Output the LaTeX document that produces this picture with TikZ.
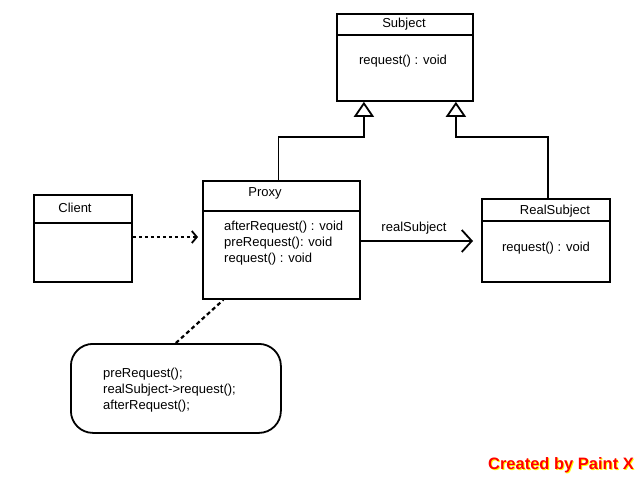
\documentclass[tikz,border=0pt]{standalone}
\usepackage{fontspec}
\setmainfont{Liberation Sans}
\usepackage{xcolor}
\usetikzlibrary{arrows.meta,positioning,calc}
\definecolor{ink}{HTML}{000000}
\definecolor{wmred}{HTML}{FF0000}
\definecolor{wmyel}{HTML}{FFFF00}
\tikzset{
  cls/.style={rectangle, draw=ink, line width=1.8pt, anchor=north west, inner sep=0pt},
  hdr/.style={line width=1.8pt, draw=ink},
  txt/.style={font=\fontsize{13}{16}\selectfont, inner sep=0pt, align=left},
  gen/.style={-{Triangle[open, length=15pt, width=20pt, line width=1.8pt]}, line width=1.8pt, draw=ink},
  asc/.style={-{Straight Barb[length=10pt, width=22pt, line width=1.8pt]}, line width=1.8pt, draw=ink},
  dep/.style={-{Straight Barb[length=5pt, width=12pt, line width=1.8pt]}, line width=1.8pt, draw=ink,
              dash pattern=on 3pt off 3pt},
  notebox/.style={rectangle, rounded corners=22pt, draw=ink, line width=1.8pt, anchor=north west, inner sep=0pt},
}

\begin{document}
\begin{tikzpicture}[x=1pt, y=-1pt]
  \useasboundingbox (0,0) rectangle (640,480);
  % class boxes
  \node[cls, minimum width=136pt, minimum height=87pt] (subj) at (336,13) {};
  \node[cls, minimum width=98pt, minimum height=87pt] (client) at (33,194) {};
  \node[cls, minimum width=157pt, minimum height=118pt] (proxy) at (202,180) {};
  \node[cls, minimum width=128pt, minimum height=83pt] (real) at (481,198) {};
  \node[notebox, minimum width=210pt, minimum height=89pt] (note) at (70,343) {};
  % header lines
  \draw[hdr] ([yshift=-22pt]subj.north west) -- ([yshift=-22pt]subj.north east);
  \draw[hdr] ([yshift=-29pt]client.north west) -- ([yshift=-29pt]client.north east);
  \draw[hdr] ([yshift=-31pt]proxy.north west) -- ([yshift=-31pt]proxy.north east);
  \draw[hdr] ([yshift=-23pt]real.north west) -- ([yshift=-23pt]real.north east);
  % texts
  \node[txt] (subjT) at (404,24) {Subject};
  \node[txt] (subjM) at (403,61) {request() : void};
  \node[txt] (clientT) at (75,208) {Client};
  \node[txt] (proxyT) at (265,193) {Proxy};
  \node[txt, anchor=north west] (proxyM) at (224,221) {afterRequest() : void\\preRequest(): void\\request() : void};
  \node[txt] (realT) at (555,211) {RealSubject};
  \node[txt] (realM) at (546,248) {request() : void};
  \node[txt, anchor=west] (noteT) at (103,390) {preRequest();\\realSubject->request();\\afterRequest();};
  % connectors
  \coordinate (s1) at ([xshift=-41pt]subj.south);
  \coordinate (s2) at ([xshift=51pt]subj.south);
  \draw[gen] ([xshift=-3pt]proxy.north) |- ($(s1)+(0,35)$) -- (s1);
  \draw[gen] ([xshift=2pt]real.north) |- ($(s2)+(0,35)$) -- (s2);
  \draw[asc, shorten >=8pt] ([yshift=-61pt]proxy.north east) -- ([yshift=-43pt]real.north west);
  \node[txt] (ascL) at (414,228) {realSubject};
  \draw[dep, shorten >=4pt] ([yshift=-43pt]client.north east) -- ([yshift=-57pt]proxy.north west);
  \draw[line width=2.2pt, draw=ink, dash pattern=on 4pt off 3pt] (note.north) -- ([xshift=-58pt]proxy.south);
  % watermark
  \node[font=\fontsize{16.5}{19}\selectfont\bfseries, text=wmyel, inner sep=0pt] (wmS) at (562,466) {Created by Paint X};
  \node[font=\fontsize{16.5}{19}\selectfont\bfseries, text=wmred, inner sep=0pt] (wm) at (561,465) {Created by Paint X};
\end{tikzpicture}
\end{document}
